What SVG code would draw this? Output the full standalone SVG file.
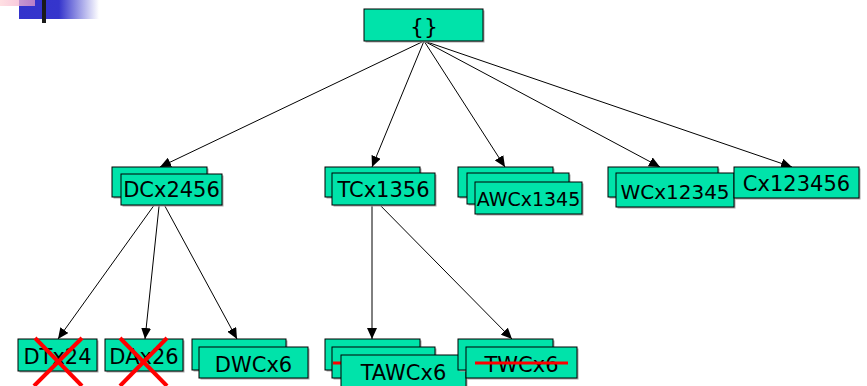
<svg xmlns="http://www.w3.org/2000/svg" width="867" height="386" viewBox="0 0 867 386">
<style>
.n{fill:#00E3AA;stroke:#000;stroke-width:1}
.s{fill:#a8a8a8}
.t{font-family:"DejaVu Sans",Verdana,sans-serif;font-size:21px;fill:#000;text-anchor:middle}
.e{stroke:#000;stroke-width:1;fill:none;marker-end:url(#ah)}
.x{stroke:#FF0000;stroke-width:4;stroke-linecap:butt}
.k{stroke:#FF0000;stroke-width:3}
</style>
<defs>
<marker id="ah" markerWidth="12" markerHeight="10" refX="11" refY="5" orient="auto" markerUnits="userSpaceOnUse">
<path d="M0,0 L11,5 L0,10 Z" fill="#000"/>
</marker>
<linearGradient id="bg" x1="0" y1="0" x2="1" y2="0">
<stop offset="0" stop-color="#3333CC"/>
<stop offset="0.5" stop-color="#3535CC"/>
<stop offset="1" stop-color="#3535CC" stop-opacity="0"/>
</linearGradient>
<linearGradient id="pg" x1="0" y1="0" x2="1" y2="0">
<stop offset="0" stop-color="#FFD8DC" stop-opacity="0.8"/>
<stop offset="1" stop-color="#F0A0C8" stop-opacity="0.7"/>
</linearGradient>
</defs>
<g id="logo">
<rect x="19" y="0" width="80" height="19" fill="url(#bg)"/>
<rect x="0" y="0" width="35" height="6" fill="url(#pg)"/>
<rect x="42" y="0" width="4" height="23" fill="#1a1a1a"/>
</g>
<g id="connectors">
<line class="e" x1="424" y1="41" x2="160" y2="167"/>
<line class="e" x1="424" y1="41" x2="372" y2="167"/>
<line class="e" x1="424" y1="41" x2="505" y2="167"/>
<line class="e" x1="424" y1="41" x2="660" y2="167"/>
<line class="e" x1="424" y1="41" x2="792" y2="167"/>
<line class="e" x1="160" y1="197" x2="58" y2="339"/>
<line class="e" x1="160" y1="197" x2="145" y2="339"/>
<line class="e" x1="160" y1="197" x2="237" y2="339"/>
<line class="e" x1="372" y1="197" x2="372" y2="339"/>
<line class="e" x1="372" y1="197" x2="512" y2="339"/>
</g>
<g id="root">
<rect class="s" x="365.5" y="10.5" width="119" height="32"/>
<rect class="n" x="364" y="9" width="119" height="32"/>
<text class="t" x="424" y="34" style="font-size:22px">{}</text>
</g>
<g id="DCx2456">
<rect class="s" x="113.5" y="168.5" width="95" height="30"/>
<rect class="n" x="112" y="167" width="95" height="30"/>
<rect class="s" x="122.5" y="175.5" width="101" height="31"/>
<rect class="n" x="121" y="174" width="101" height="31"/>
<text class="t" x="171.5" y="197">DCx2456</text>
</g>
<g id="TCx1356">
<rect class="s" x="326.5" y="168.5" width="95" height="30"/>
<rect class="n" x="325" y="167" width="95" height="30"/>
<rect class="s" x="333.5" y="174.5" width="103" height="32"/>
<rect class="n" x="332" y="173" width="103" height="32"/>
<text class="t" x="383.5" y="197">TCx1356</text>
</g>
<g id="AWCx1345">
<rect class="s" x="459.5" y="168.5" width="95" height="30"/>
<rect class="n" x="458" y="167" width="95" height="30"/>
<rect class="s" x="468.5" y="174.5" width="102" height="31"/>
<rect class="n" x="467" y="173" width="102" height="31"/>
<rect class="s" x="476.5" y="183.5" width="107" height="32"/>
<rect class="n" x="475" y="182" width="107" height="32"/>
<text class="t" x="528.5" y="205.5" style="font-size:19px">AWCx1345</text>
</g>
<g id="WCx12345">
<rect class="s" x="609.5" y="168.5" width="110" height="30"/>
<rect class="n" x="608" y="167" width="110" height="30"/>
<rect class="s" x="617.5" y="174.5" width="118" height="34"/>
<rect class="n" x="616" y="173" width="118" height="34"/>
<text class="t" x="675" y="198.5" style="font-size:20px">WCx12345</text>
</g>
<g id="Cx123456">
<rect class="s" x="735.5" y="168.5" width="125" height="31"/>
<rect class="n" x="734" y="167" width="125" height="31"/>
<text class="t" x="796.5" y="190.5">Cx123456</text>
</g>
<g id="DTx24">
<rect class="s" x="19.5" y="340.5" width="79" height="32"/>
<rect class="n" x="18" y="339" width="79" height="32"/>
<text class="t" x="57.5" y="363.5">DTx24</text>
<line class="x" x1="35" y1="338" x2="82" y2="386"/>
<line class="x" x1="82" y1="338" x2="34" y2="386"/>
</g>
<g id="DAx26">
<rect class="s" x="106.5" y="340.5" width="78" height="32"/>
<rect class="n" x="105" y="339" width="78" height="32"/>
<text class="t" x="144" y="363.5">DAx26</text>
<line class="x" x1="120" y1="338" x2="167" y2="386"/>
<line class="x" x1="167" y1="338" x2="120" y2="386"/>
</g>
<g id="DWCx6">
<rect class="s" x="193.5" y="340.5" width="94" height="31"/>
<rect class="n" x="192" y="339" width="94" height="31"/>
<rect class="s" x="200.5" y="348.5" width="109" height="31"/>
<rect class="n" x="199" y="347" width="109" height="31"/>
<text class="t" x="253.5" y="372">DWCx6</text>
</g>
<g id="TAWCx6">
<rect class="s" x="326.5" y="340.5" width="95" height="31"/>
<rect class="n" x="325" y="339" width="95" height="31"/>
<rect class="s" x="333.5" y="348.5" width="103" height="31"/>
<rect class="n" x="332" y="347" width="103" height="31"/>
<line class="k" x1="333" y1="363" x2="430" y2="363"/>
<rect class="s" x="342.5" y="356.5" width="125" height="35"/>
<rect class="n" x="341" y="355" width="125" height="35"/>
<text class="t" x="403.5" y="379.5">TAWCx6</text>
</g>
<g id="TWCx6">
<rect class="s" x="459.5" y="340.5" width="95" height="31"/>
<rect class="n" x="458" y="339" width="95" height="31"/>
<rect class="s" x="467.5" y="348.5" width="111" height="31"/>
<rect class="n" x="466" y="347" width="111" height="31"/>
<text class="t" x="521.5" y="372">TWCx6</text>
<line class="k" x1="475" y1="363" x2="568" y2="363"/>
</g>
</svg>
